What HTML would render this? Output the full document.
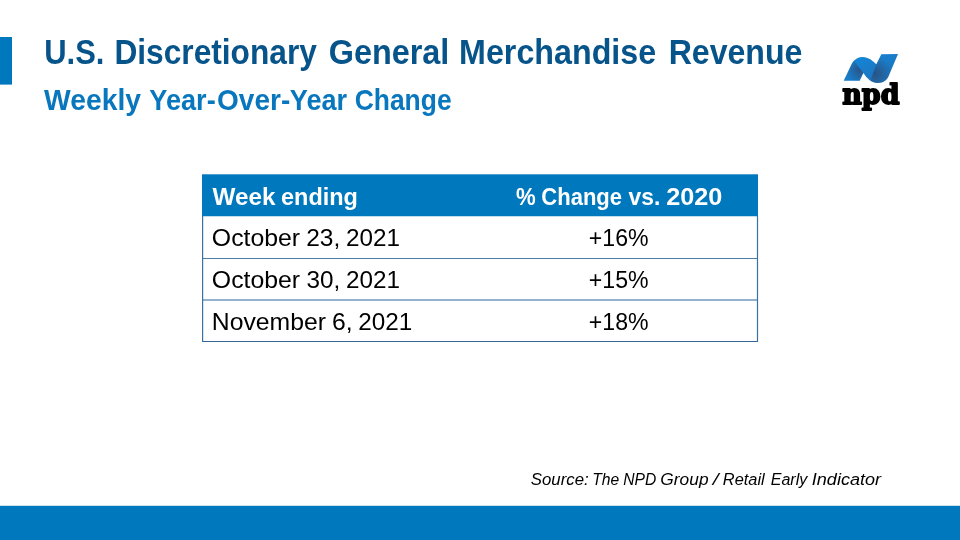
<!DOCTYPE html>
<html lang="en">
<head>
<meta charset="utf-8">
<title>U.S. Discretionary General Merchandise Revenue</title>
<style>
html,body{margin:0;padding:0;background:#fff;width:960px;height:540px;overflow:hidden}
svg{display:block}
text{font-family:"Liberation Sans",sans-serif;white-space:pre}
.logo text{font-family:"DejaVu Serif","Liberation Serif",serif}
</style>
</head>
<body>
<svg width="960" height="540" viewBox="0 0 960 540">
<rect x="0" y="37" width="12" height="47.6" fill="#0078BE"/>
<rect x="0" y="505.8" width="960" height="34.2" fill="#0078BE"/>
<rect x="202" y="174.3" width="556" height="41.95" fill="#0078BE"/>
<g fill="none" stroke="#3A70A2" stroke-width="1"><path d="M203 258.5H757" stroke="#4B7DA8"/><path d="M203 300H757" stroke="#2A669C"/><path d="M202 341.5H758" stroke="#33699A"/><path d="M202.6 216V342M757.5 216V342" stroke-width="1.2"/></g>

<g class="logo">
<defs>
<clipPath id="nclip"><path d="M55,462 L170,220 C200,160 250,112 330,105 C420,100 490,160 545,215 L620,65 L870,60 L730,390 C705,450 650,495 570,495 C470,495 400,420 350,345 L295,462 Z"/></clipPath>
<radialGradient id="sh1" gradientUnits="userSpaceOnUse" cx="300" cy="290" r="210"><stop offset="0" stop-color="#2A5080" stop-opacity="0.95"/><stop offset="0.35" stop-color="#2A5587" stop-opacity="0.7"/><stop offset="1" stop-color="#2D5587" stop-opacity="0"/></radialGradient>
<radialGradient id="sh2" gradientUnits="userSpaceOnUse" cx="520" cy="350" r="260"><stop offset="0" stop-color="#2A5080" stop-opacity="0.95"/><stop offset="0.35" stop-color="#2A5587" stop-opacity="0.7"/><stop offset="1" stop-color="#2D5587" stop-opacity="0"/></radialGradient>
<linearGradient id="base" gradientUnits="userSpaceOnUse" x1="300" y1="100" x2="500" y2="500"><stop offset="0" stop-color="#1485D6"/><stop offset="1" stop-color="#1C74BC"/></linearGradient>
</defs>
<g transform="translate(840 50) scale(0.066667)">
<path d="M55,462 L170,220 C200,160 250,112 330,105 C420,100 490,160 545,215 L620,65 L870,60 L730,390 C705,450 650,495 570,495 C470,495 400,420 350,345 L295,462 Z" fill="url(#base)"/>
<g clip-path="url(#nclip)">
<path d="M55,462 L295,462 L350,345 L215,170 L100,220 Z" fill="url(#sh1)"/>
<path d="M545,215 L620,65 L900,40 L900,520 L440,520 L470,420 Z" fill="url(#sh2)"/>
</g>
</g>
<text x="842.2" y="104.2" font-size="27.5" font-weight="bold" fill="#000" stroke="#000" stroke-width="1.8" stroke-linejoin="round" textLength="57.3" lengthAdjust="spacingAndGlyphs">npd</text>
</g>

<text id="title" y="63.6" font-size="34.2" fill="#07548A" font-weight="bold"><tspan x="44.29" textLength="60.17" lengthAdjust="spacingAndGlyphs">U.S.</tspan> <tspan x="114.42" textLength="202.49" lengthAdjust="spacingAndGlyphs">Discretionary</tspan> <tspan x="328.70" textLength="120.64" lengthAdjust="spacingAndGlyphs">General</tspan> <tspan x="459.08" textLength="197.05" lengthAdjust="spacingAndGlyphs">Merchandise</tspan> <tspan x="668.69" textLength="133.72" lengthAdjust="spacingAndGlyphs">Revenue</tspan></text>
<text id="sub" y="110.2" font-size="29.3" fill="#0877BE" font-weight="bold"><tspan x="44.10" textLength="96.89" lengthAdjust="spacingAndGlyphs">Weekly</tspan> <tspan x="149.34" textLength="66.35" lengthAdjust="spacingAndGlyphs">Year-</tspan><tspan x="217.11" textLength="73.11" lengthAdjust="spacingAndGlyphs">Over-</tspan><tspan x="289.84" textLength="57.25" lengthAdjust="spacingAndGlyphs">Year</tspan> <tspan x="354.67" textLength="96.98" lengthAdjust="spacingAndGlyphs">Change</tspan></text>
<text id="h1" y="204.6" font-size="24.0" fill="#FFFFFF" font-weight="bold"><tspan x="212.50" textLength="62.91" lengthAdjust="spacingAndGlyphs">Week</tspan> <tspan x="281.02" textLength="76.90" lengthAdjust="spacingAndGlyphs">ending</tspan></text>
<text id="h2" y="204.6" font-size="24.0" fill="#FFFFFF" font-weight="bold"><tspan x="516.12" textLength="19.72" lengthAdjust="spacingAndGlyphs">%</tspan> <tspan x="541.28" textLength="80.83" lengthAdjust="spacingAndGlyphs">Change</tspan> <tspan x="628.58" textLength="31.75" lengthAdjust="spacingAndGlyphs">vs.</tspan> <tspan x="666.18" textLength="56.14" lengthAdjust="spacingAndGlyphs">2020</tspan></text>
<text id="r1a" y="245.75" font-size="24.0" fill="#000000"><tspan x="211.84" textLength="88.30" lengthAdjust="spacingAndGlyphs">October</tspan> <tspan x="306.19" textLength="34.06" lengthAdjust="spacingAndGlyphs">23,</tspan> <tspan x="345.91" textLength="54.04" lengthAdjust="spacingAndGlyphs">2021</tspan></text>
<text id="r1b" y="245.75" font-size="24.0" fill="#000000"><tspan x="588.86" textLength="59.73" lengthAdjust="spacingAndGlyphs">+16%</tspan></text>
<text id="r2a" y="287.75" font-size="24.0" fill="#000000"><tspan x="211.84" textLength="88.30" lengthAdjust="spacingAndGlyphs">October</tspan> <tspan x="306.46" textLength="33.78" lengthAdjust="spacingAndGlyphs">30,</tspan> <tspan x="345.91" textLength="54.04" lengthAdjust="spacingAndGlyphs">2021</tspan></text>
<text id="r2b" y="287.75" font-size="24.0" fill="#000000"><tspan x="588.86" textLength="59.73" lengthAdjust="spacingAndGlyphs">+15%</tspan></text>
<text id="r3a" y="329.75" font-size="24.0" fill="#000000"><tspan x="211.81" textLength="114.16" lengthAdjust="spacingAndGlyphs">November</tspan> <tspan x="332.02" textLength="20.62" lengthAdjust="spacingAndGlyphs">6,</tspan> <tspan x="358.23" textLength="54.04" lengthAdjust="spacingAndGlyphs">2021</tspan></text>
<text id="r3b" y="329.75" font-size="24.0" fill="#000000"><tspan x="588.86" textLength="59.73" lengthAdjust="spacingAndGlyphs">+18%</tspan></text>
<text id="src" y="484.6" font-size="16.7" fill="#000000" font-style="italic"><tspan x="530.80" textLength="57.88" lengthAdjust="spacingAndGlyphs">Source:</tspan> <tspan x="592.29" textLength="27.02" lengthAdjust="spacingAndGlyphs">The</tspan> <tspan x="623.23" textLength="33.04" lengthAdjust="spacingAndGlyphs">NPD</tspan> <tspan x="660.39" textLength="48.17" lengthAdjust="spacingAndGlyphs">Group</tspan> <tspan x="712.79" textLength="5.80" lengthAdjust="spacingAndGlyphs">/</tspan> <tspan x="722.81" textLength="41.89" lengthAdjust="spacingAndGlyphs">Retail</tspan> <tspan x="770.72" textLength="36.60" lengthAdjust="spacingAndGlyphs">Early</tspan> <tspan x="811.82" textLength="69.25" lengthAdjust="spacingAndGlyphs">Indicator</tspan></text>
</svg>
</body>
</html>
